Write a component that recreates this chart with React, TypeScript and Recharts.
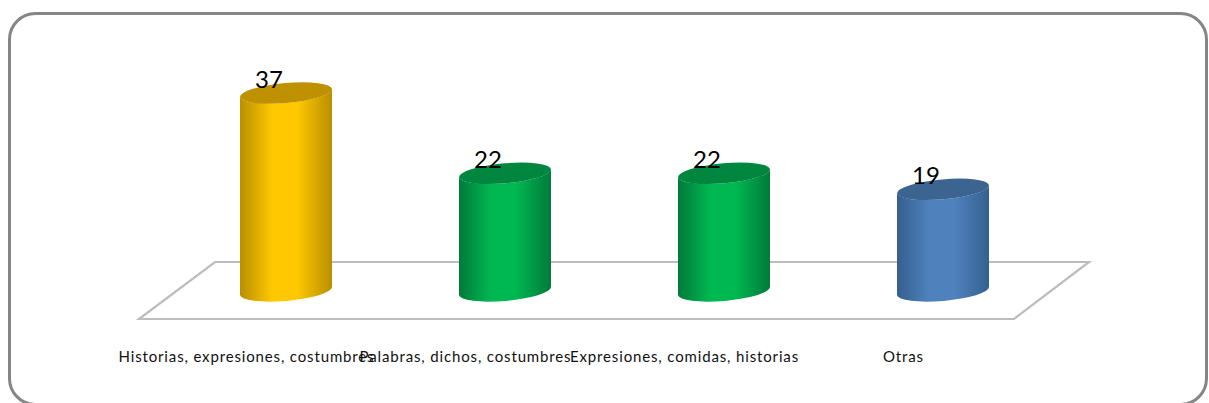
import React from 'react';
import { BarChart, Bar, XAxis, YAxis, Cell, LabelList } from 'recharts';

const categories = [
  'Historias, expresiones, costumbres',
  'Palabras, dichos, costumbres',
  'Expresiones, comidas, historias',
  'Otras',
];
const values = [37, 22, 22, 19];
const barColors = ['yellow', 'green', 'green', 'blue'];

const data = categories.map((name, i) => ({ name, value: values[i], color: barColors[i] }));

const PALETTE: Record<string, { edge: string; mid: string; top: string }> = {
  yellow: { edge: '#B88F00', mid: '#FFC800', top: '#BF9000' },
  green: { edge: '#007A3A', mid: '#00B852', top: '#00863E' },
  blue: { edge: '#34608F', mid: '#4F81BD', top: '#3B6491' },
};

const TILT = 5; // degrees, the ellipses lean up to the right
const RISE = 4;
const RY = 10;

const Cylinder: React.FC<any> = ({ x, y, width, height, color }) => {
  const rx = width / 2 / Math.cos((TILT * Math.PI) / 180);
  const cx = x + width / 2;
  const bottom = y + height;
  const body = `M${x},${y + RISE} L${x},${bottom + RISE} A${rx},${RY} ${-TILT} 0 0 ${x + width},${bottom - RISE} L${x + width},${y - RISE} A${rx},${RY} ${-TILT} 0 1 ${x},${y + RISE} Z`;
  return (
    <g>
      <path d={body} fill={`url(#body-${color})`} />
      <ellipse cx={cx} cy={y} rx={rx} ry={RY} fill={PALETTE[color].top} transform={`rotate(${-TILT} ${cx} ${y})`} />
    </g>
  );
};

const CategoryTick: React.FC<any> = ({ x, y, payload }) => (
  <text x={x - 39} y={y} textAnchor="middle" fontFamily="Lato" fontSize={15} letterSpacing={0.85} fill="#111">
    {payload.value}
  </text>
);

const ValueLabel: React.FC<any> = ({ x, y, width, value }) => (
  <text x={x + width / 2 - 17} y={y - 5} textAnchor="middle" fontFamily="Lato" fontSize={24} fill="#000">
    {value}
  </text>
);

const App: React.FC = () => {
  return (
    <div style={{ position: 'absolute', left: 0, top: 0, width: 1209, height: 403, overflow: 'hidden', background: '#fff' }}>
      <svg width={1209} height={403} style={{ position: 'absolute', left: 0, top: 0 }}>
        <rect x={9.5} y={13.5} width={1197} height={391} rx={26} fill="#fff" stroke="#868686" strokeWidth={3} />
        <path d="M139,319 L215,262 L1089,262 L1014,319 Z" fill="#fff" stroke="#BDBDBD" strokeWidth={2.2} />
      </svg>
      <div style={{ position: 'absolute', left: 0, top: 0 }}>
        <BarChart
          width={1209}
          height={403}
          data={data}
          barSize={92}
          margin={{ top: 77, right: 157, bottom: 0, left: 176 }}
        >
          <defs>
            {Object.keys(PALETTE).map((k) => (
              <linearGradient key={k} id={`body-${k}`} x1="0" y1="0" x2="1" y2="0">
                <stop offset="0%" stopColor={PALETTE[k].edge} />
                <stop offset="35%" stopColor={PALETTE[k].mid} />
                <stop offset="62%" stopColor={PALETTE[k].mid} />
                <stop offset="100%" stopColor={PALETTE[k].edge} />
              </linearGradient>
            ))}
          </defs>
          <XAxis
            dataKey="name"
            axisLine={false}
            tickLine={false}
            height={112}
            tickMargin={0}
            interval={0}
            tick={(props: any) => <CategoryTick {...props} y={362} />}
          />
          <YAxis domain={[0, 40]} hide />
          <Bar
            dataKey="value"
            isAnimationActive={false}
            shape={(props: any) => <Cylinder {...props} color={props.payload.color} />}
          >
            {data.map((d) => (
              <Cell key={d.name} fill={PALETTE[d.color].mid} />
            ))}
            <LabelList dataKey="value" content={<ValueLabel />} />
          </Bar>
        </BarChart>
      </div>
    </div>
  );
};

export default App;
